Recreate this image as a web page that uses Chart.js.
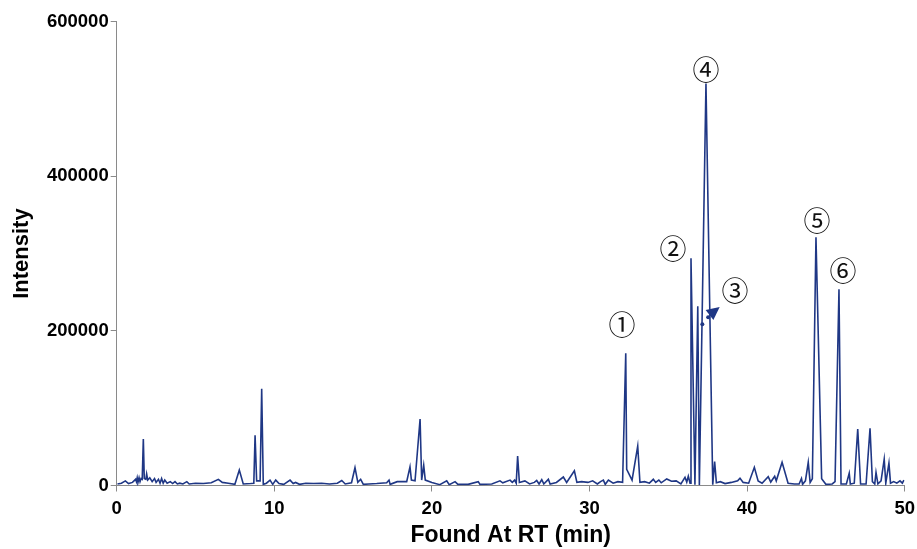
<!DOCTYPE html>
<html><head><meta charset="utf-8">
<script src="https://cdn.jsdelivr.net/npm/chart.js@4.4.1/dist/chart.umd.min.js"></script>
<style>html,body{margin:0;padding:0;background:#fff}</style>
</head><body>
<canvas id="c" width="917" height="549"></canvas>
<script>
// Retention time (min) and intensity
const rtMin = [
0.05,0.3,0.55,0.75,1.0,1.2,1.25,1.3,1.35,1.42,1.48,1.55,1.62,1.69,1.75,1.85,1.9,1.97,2.1,2.25,
2.4,2.5,2.65,2.75,2.85,2.95,3.05,3.2,3.4,3.55,3.7,3.85,4.0,4.2,4.45,4.6,5.0,5.5,6.0,6.45,
6.7,7.08,7.5,7.78,8.03,8.5,8.7,8.78,8.88,9.1,9.2,9.3,9.5,9.73,9.9,10.09,10.3,10.6,11.0,11.2,
11.35,11.6,12.0,12.5,13.0,13.5,14.0,14.28,14.5,14.9,15.12,15.3,15.48,15.65,16.0,16.5,17.13,17.28,17.35,17.8,
18.4,18.61,18.7,18.93,19.25,19.35,19.48,19.58,20.0,20.5,20.94,21.1,21.47,21.65,22.3,22.94,23.05,23.8,24.32,24.5,
24.96,25.1,25.25,25.35,25.44,25.55,25.9,26.2,26.5,26.65,26.8,26.97,27.1,27.39,27.5,27.9,28.34,28.55,29.04,29.2,
29.5,29.9,30.2,30.5,30.7,30.88,31.0,31.2,31.5,31.8,32.1,32.3,32.36,32.7,33.06,33.2,33.5,33.8,34.05,34.2,
34.4,34.55,34.9,35.2,35.5,35.8,36.06,36.17,36.27,36.38,36.44,36.69,36.87,36.97,37.39,37.82,37.94,38.05,38.3,38.6,
39.0,39.4,39.55,39.75,40.1,40.46,40.7,40.95,41.34,41.5,41.75,41.85,42.22,42.6,43.0,43.3,43.45,43.52,43.7,43.88,
44.0,44.14,44.37,44.73,45.0,45.4,45.58,45.83,45.96,46.3,46.48,46.55,46.8,47.02,47.2,47.55,47.8,47.95,48.1,48.18,
48.3,48.5,48.7,48.8,49.0,49.1,49.3,49.5,49.7,49.85,49.95
];
const intensity = [
2000,3000,6000,2500,4000,8000,5000,10000,4000,10000,5000,9000,8000,60000,9000,8000,15000,7000,10000,5000,
9000,4000,8000,3000,9000,3000,7000,3000,5000,2500,5000,2000,3000,2000,5000,2000,3000,2500,3500,8000,
4000,3000,1500,20000,2000,2500,3000,65000,6000,6000,125000,1500,3000,7000,1500,7000,2500,1500,7000,2500,
4000,1500,3000,2500,3000,2000,3000,6500,2000,3500,23000,4000,8000,1500,2000,2500,3500,7000,1500,5000,
5000,24000,7000,6000,86000,7000,26000,7000,4000,1000,6000,1000,5000,1500,1500,5000,1500,2000,6000,3500,
7000,4000,7000,3000,38000,4000,6000,2000,4000,6500,2000,7500,2000,8000,2000,4000,11000,4000,19000,4000,
5000,4000,6000,2000,5000,7000,1500,7000,3000,5000,4000,171000,21000,7000,51000,4000,5000,3000,8000,4000,
7000,3500,8500,5500,6000,2000,10600,4500,12000,3000,294000,1000,232000,500,520000,1000,31000,3500,5000,2500,
4000,6000,9500,4000,3000,23500,6000,3000,11500,4500,12000,6000,30000,3000,2000,2000,9000,1500,6000,30000,
4000,8800,321000,8800,1500,2000,5000,254000,2000,2000,15800,2000,3000,73000,2000,2000,74000,5000,2000,17000,
2000,6000,34000,3000,29000,3000,5000,3000,6000,3000,7000
];
const xTickValues = [0, 10, 20, 30, 40, 50];
const yTickValues = [0, 200000, 400000, 600000];

// Peak 3 markers and annotation
const markerRt = [37.16, 37.53];
const markerIntensity = [208700, 217700];
const peakLabels = ['①', '②', '③', '④', '⑤', '⑥'];
const peakLabelRt = [32.07, 35.3, 39.23, 37.39, 44.44, 46.09];
const peakLabelIntensity = [204000, 302000, 248000, 534000, 338000, 274000];
const arrowRt = [37.37, 38.26, 37.86];
const arrowIntensity = [227000, 231000, 214000];

const NAVY = '#1f3785';
const AXIS = '#8a8a8a';

const annotate = {
  id: 'annotate',
  afterDatasetsDraw(chart) {
    const {ctx, scales: {x, y}} = chart;
    ctx.save();
    ctx.fillStyle = '#111';
    ctx.font = '27px "DejaVu Serif", "Noto Sans CJK SC", serif';
    ctx.textAlign = 'center';
    ctx.textBaseline = 'middle';
    peakLabels.forEach((t, i) => {
      ctx.fillText(t, x.getPixelForValue(peakLabelRt[i]), y.getPixelForValue(peakLabelIntensity[i]));
    });
    ctx.fillStyle = NAVY;
    ctx.beginPath();
    arrowRt.forEach((v, i) => {
      const px = x.getPixelForValue(v), py = y.getPixelForValue(arrowIntensity[i]);
      if (i === 0) ctx.moveTo(px, py); else ctx.lineTo(px, py);
    });
    ctx.closePath();
    ctx.fill();
    ctx.restore();
  }
};

const boldFont = (s) => ({family: '"Liberation Sans", Arial, sans-serif', weight: 'bold', size: s});

new Chart(document.getElementById('c'), {
  type: 'scatter',
  data: {
    datasets: [{
      data: rtMin.map((v, i) => ({x: v, y: intensity[i]})),
      showLine: true,
      borderColor: NAVY,
      backgroundColor: NAVY,
      borderWidth: 1.6,
      pointRadius: 0,
      tension: 0,
      fill: false
    }, {
      data: markerRt.map((v, i) => ({x: v, y: markerIntensity[i]})),
      showLine: false,
      pointRadius: 2,
      pointBackgroundColor: NAVY,
      pointBorderWidth: 0
    }]
  },
  options: {
    responsive: false,
    devicePixelRatio: 1,
    animation: false,
    layout: {padding: {left: 0, top: 21.7, right: 12.3, bottom: 0}},
    plugins: {legend: {display: false}, tooltip: {enabled: false}},
    scales: {
      x: {
        type: 'linear', min: 0, max: 50,
        afterBuildTicks: s => { s.ticks = xTickValues.map(v => ({value: v})); },
        afterFit: s => { s.height = 63.5; s.paddingLeft = 0; s.paddingRight = 0; },
        grid: {display: true, drawOnChartArea: false, drawTicks: true, tickLength: 6, color: AXIS, lineWidth: 1},
        border: {display: true, color: AXIS, width: 1},
        ticks: {color: '#000', font: boldFont(18.5), padding: 6, maxRotation: 0, callback: v => String(v)},
        title: {display: true, text: 'Found At RT (min)', color: '#000', font: boldFont(23), padding: {top: 0, bottom: 0}}
      },
      y: {
        type: 'linear', min: 0, max: 600000,
        afterBuildTicks: s => { s.ticks = yTickValues.map(v => ({value: v})); },
        afterFit: s => { s.width = 116.7; s.paddingTop = 0; s.paddingBottom = 0; },
        grid: {display: true, drawOnChartArea: false, drawTicks: true, tickLength: 6, color: AXIS, lineWidth: 1},
        border: {display: true, color: AXIS, width: 1},
        ticks: {color: '#000', font: boldFont(18.5), padding: 2, callback: v => String(v)},
        title: {display: true, text: 'Intensity', color: '#000', font: boldFont(22), padding: {top: 9, bottom: 0}}
      }
    }
  },
  plugins: [annotate]
});
</script>
</body></html>
